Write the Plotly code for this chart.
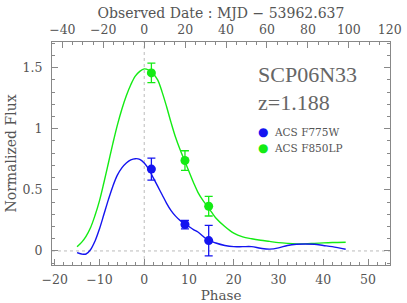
import plotly.graph_objects as go

# ---- data ----
curve_phase = [-15, -14, -13, -12, -11, -10, -9, -8, -7, -6, -5, -4, -3, -2, -1, 0, 1, 2, 3, 4, 5, 6, 7, 8,
               9, 10, 11, 12, 13, 14, 15, 16, 18, 20, 22, 24, 26, 28, 30, 32, 34, 36, 38, 40, 42, 45]
f850_curve = [0.035, 0.07, 0.12, 0.19, 0.29, 0.41, 0.56, 0.72, 0.88, 1.03, 1.16, 1.27, 1.36, 1.43, 1.47,
              1.49, 1.48, 1.45, 1.40, 1.30, 1.18, 1.05, 0.93, 0.83, 0.74, 0.65, 0.56, 0.48, 0.42, 0.37,
              0.32, 0.27, 0.20, 0.145, 0.115, 0.10, 0.088, 0.078, 0.068, 0.062, 0.058, 0.058, 0.062,
              0.066, 0.069, 0.071]
f775_curve = [-0.014, -0.025, -0.025, 0.01, 0.08, 0.18, 0.30, 0.42, 0.53, 0.62, 0.68, 0.72, 0.745, 0.755,
              0.75, 0.72, 0.67, 0.60, 0.53, 0.46, 0.39, 0.33, 0.285, 0.25, 0.225, 0.20, 0.175, 0.155,
              0.125, 0.095, 0.08, 0.065, 0.045, 0.035, 0.035, 0.035, 0.022, 0.015, 0.025, 0.045, 0.055,
              0.057, 0.055, 0.045, 0.035, 0.014]

obs_phase = [1.6, 9.1, 14.4]
f775_flux = [0.67, 0.216, 0.085]
f775_err = [0.09, 0.035, 0.125]
f850_flux = [1.457, 0.74, 0.366]
f850_err = [0.08, 0.08, 0.08]

series_names = ["ACS F775W", "ACS F850LP"]
sn_name = "SCP06N33"
sn_redshift = "z=1.188"
one_plus_z = 2.188
x_range = [-20.6, 54.9]
y_range = [-0.115, 1.71]
x_ref = 0
y_ref = 0

BLUE = "rgb(20,20,240)"
GREEN = "rgb(20,235,20)"
GRAY = "#555555"
AX = "#888888"
FONT = "DejaVu Serif"
BIGFONT = "Liberation Serif"

fig = go.Figure()
fig.add_trace(go.Scatter(x=curve_phase, y=f850_curve, mode="lines", line=dict(color=GREEN, width=1.4, shape="spline"),
                         showlegend=False, hoverinfo="skip"))
fig.add_trace(go.Scatter(x=curve_phase, y=f775_curve, mode="lines", line=dict(color=BLUE, width=1.4, shape="spline"),
                         showlegend=False, hoverinfo="skip"))
fig.add_trace(go.Scatter(x=obs_phase, y=f775_flux, mode="markers", name=series_names[0],
                         marker=dict(color=BLUE, size=9), showlegend=False,
                         error_y=dict(type="data", array=f775_err, color=BLUE, thickness=1.3, width=4)))
fig.add_trace(go.Scatter(x=obs_phase, y=f850_flux, mode="markers", name=series_names[1],
                         marker=dict(color=GREEN, size=9), showlegend=False,
                         error_y=dict(type="data", array=f850_err, color=GREEN, thickness=1.3, width=4)))
# invisible trace for the top (observer-frame) axis
fig.add_trace(go.Scatter(x=[v * one_plus_z for v in x_range], y=[y_ref, y_ref], xaxis="x2", mode="lines",
                         line=dict(width=0), opacity=0, showlegend=False, hoverinfo="skip"))

fig.add_shape(type="line", xref="x", yref="paper", x0=x_ref, x1=x_ref, y0=0, y1=1,
              line=dict(color="#bbbbbb", width=1, dash="dot"), layer="below")
fig.add_shape(type="line", xref="paper", yref="y", x0=0, x1=1, y0=y_ref, y1=y_ref,
              line=dict(color="#bbbbbb", width=1, dash="dot"), layer="below")

fig.add_annotation(text=sn_name, xref="paper", yref="paper", x=0.605, y=0.855, xanchor="left", yanchor="middle",
                   showarrow=False, font=dict(family=BIGFONT, size=22, color="#666666"))
fig.add_annotation(text=sn_redshift, xref="paper", yref="paper", x=0.605, y=0.728, xanchor="left", yanchor="middle",
                   showarrow=False, font=dict(family=BIGFONT, size=22, color="#666666"))

# legend-like labels
leg_colors = [BLUE, GREEN]
leg_y = [0.595, 0.523]
for name, col, yy in zip(series_names, leg_colors, leg_y):
    fig.add_annotation(text="●", xref="paper", yref="paper", x=0.623, y=yy, xanchor="center", yanchor="middle",
                       showarrow=False, font=dict(family="DejaVu Sans", size=12, color=col))
    fig.add_annotation(text=name, xref="paper", yref="paper", x=0.652, y=yy, xanchor="left", yanchor="middle",
                       showarrow=False, font=dict(family=FONT, size=10.5, color=GRAY))

tickfont = dict(family=FONT, size=12.5, color=GRAY)
titlefont = dict(family=FONT, size=14, color=GRAY)
fig.update_layout(
    width=407, height=303,
    margin=dict(l=52, r=17, t=42, b=38),
    paper_bgcolor="white", plot_bgcolor="white",
    font=dict(family=FONT, color=GRAY),
    showlegend=False,
    xaxis=dict(range=x_range, showgrid=False, zeroline=False, showline=True, linecolor=AX, linewidth=1,
               ticks="inside", ticklen=6, tickcolor=AX, dtick=10, tick0=0, tickfont=tickfont,
               ticklabelstandoff=3, automargin=False,
               minor=dict(dtick=2, ticks="inside", ticklen=3, tickcolor=AX),
               title=dict(text="Phase", font=dict(family=FONT, size=13.5, color=GRAY), standoff=3)),
    xaxis2=dict(range=[v * one_plus_z for v in x_range], overlaying="x", side="top", anchor="y",
                showgrid=False, zeroline=False, showline=True, linecolor=AX, linewidth=1,
                ticks="inside", ticklen=6, tickcolor=AX, dtick=20, tick0=0, tickfont=tickfont,
                ticklabelstandoff=2, automargin=False,
                minor=dict(dtick=5, ticks="inside", ticklen=3, tickcolor=AX),
                title=dict(text="Observed Date : MJD − 53962.637", font=titlefont, standoff=0)),
    yaxis=dict(range=y_range, showgrid=False, zeroline=False, showline=True, mirror="ticks", linecolor=AX, linewidth=1,
               ticks="inside", ticklen=6, tickcolor=AX, dtick=0.5, tick0=0, tickfont=tickfont,
               ticklabelstandoff=6, automargin=False,
               minor=dict(dtick=0.1, ticks="inside", ticklen=3, tickcolor=AX),
               title=dict(text="Normalized Flux", font=titlefont, standoff=2)),
)

fig.write_html("out.html", config={"displayModeBar": False},
               post_script="document.body.style.margin='0px';document.body.style.overflow='hidden';")
